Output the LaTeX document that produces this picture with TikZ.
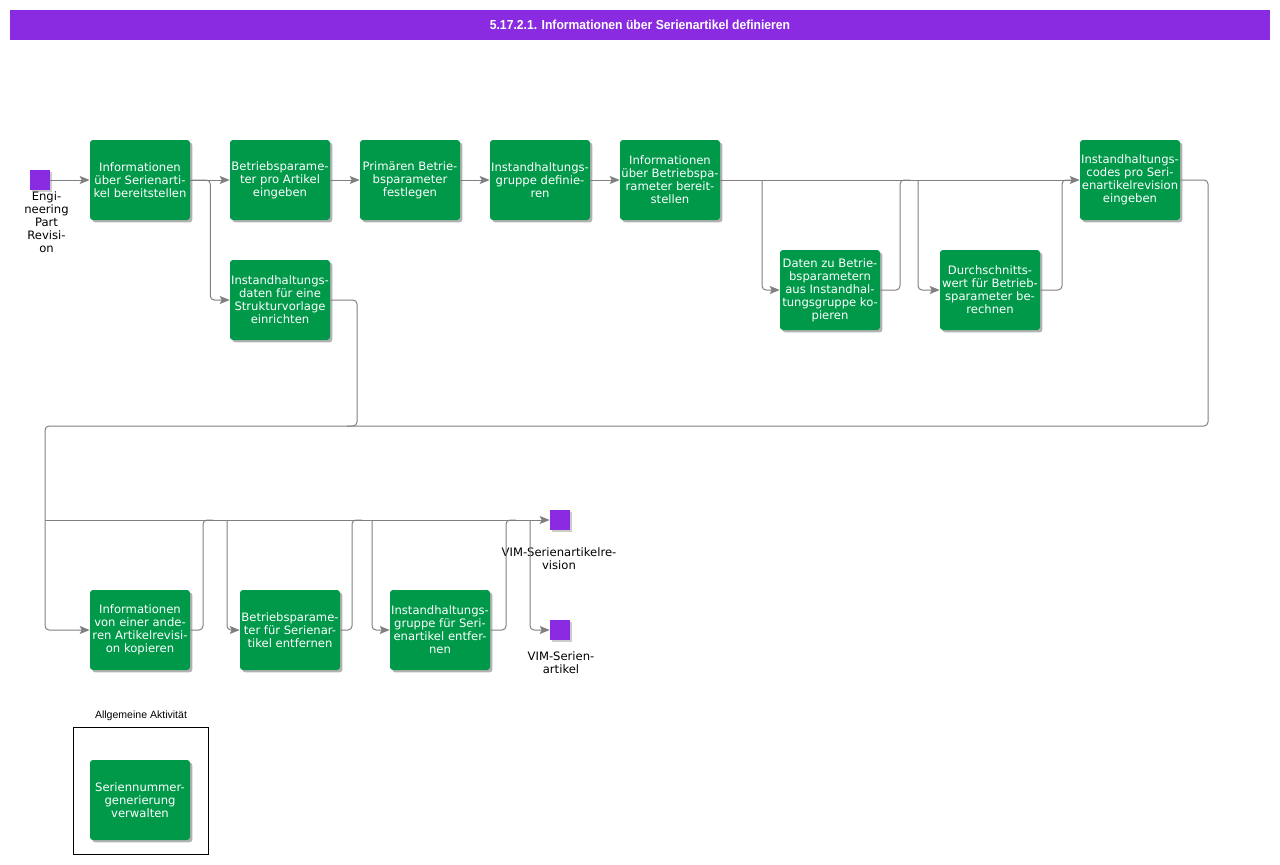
\documentclass[tikz,border=0pt]{standalone}
\usepackage{fontspec}
\setmainfont{DejaVu Sans}
\newfontfamily\titlefont[FakeStretch=0.93]{Liberation Sans}
\newfontfamily\arialfont{Liberation Sans}
\usetikzlibrary{arrows.meta, shadows}
\definecolor{actgreen}{RGB}{0,153,74}
\definecolor{evtpurple}{RGB}{138,43,226}
\definecolor{linkgray}{RGB}{128,128,128}

\begin{document}
\begin{tikzpicture}
	[%
	x=0.75pt, y=-0.75pt,%
	activity/.style={rectangle,	rounded corners=2.25pt,	fill=actgreen,	text=white,	minimum width=75pt,	minimum height=60pt,	inner sep=0pt,	align=center,	font=\fontsize{8.7}{9.75}\selectfont,	drop shadow={shadow xshift=1.8pt, shadow yshift=-1.8pt, opacity=0.3, fill=black}},%
	event/.style   ={rectangle,	fill=evtpurple,	minimum size=15pt,	inner sep=0pt,	drop shadow={shadow xshift=1.2pt, shadow yshift=-1.2pt, opacity=0.2, fill=black}},%
	evlabel/.style ={anchor=north,	align=center,	inner sep=0pt,	font=\fontsize{8.7}{9.75}\selectfont},%
	link/.style    ={draw=linkgray,	line width=0.75pt,	rounded corners=3pt},%
	flow/.style    ={link,	-{Stealth[length=7.5pt, width=6pt, inset=1.5pt]}},%
	]

	\useasboundingbox (0,0) rectangle (1280,864);

	\newcommand{\rowtop}{180}
	\newcommand{\rowmid}{290}
	\newcommand{\rowlow}{630}
	\newcommand{\busy}{520}

	% title
	\node (title) at (640,25) [fill=evtpurple, text=white, minimum width=945pt, minimum height=22.5pt, inner sep=0pt,
		font=\titlefont\bfseries\fontsize{9.8}{11}\selectfont] {5.17.2.1. Informationen über Serienartikel definieren};

	% events
	\node (E0) at (40,\rowtop) [event] {};
	\node (E0label) at (46.5,191) [evlabel] {Engi-\\neering\\Part\\Revisi-\\on};
	\node (E1) at (560,\busy) [event] {};
	\node (E1label) at (559,547) [evlabel] {VIM-Serienartikelre-\\vision};
	\node (E2) at (560,\rowlow) [event] {};
	\node (E2label) at (561,651) [evlabel] {VIM-Serien-\\artikel};

	% activities
	\node (A1)  at (140,\rowtop)  [activity] {Informationen\\über Serienarti-\\kel bereitstellen};
	\node (A2)  at (280,\rowtop)  [activity] {Betriebsparame-\\ter pro Artikel\\eingeben};
	\node (A2b) at (280,300)      [activity] {Instandhaltungs-\\daten für eine\\Strukturvorlage\\einrichten};
	\node (A3)  at (410,\rowtop)  [activity] {Primären Betrie-\\bsparameter\\festlegen};
	\node (A4)  at (540,\rowtop)  [activity] {Instandhaltungs-\\gruppe definie-\\ren};
	\node (A5)  at (670,\rowtop)  [activity] {Informationen\\über Betriebspa-\\rameter bereit-\\stellen};
	\node (A6)  at (830,\rowmid)  [activity] {Daten zu Betrie-\\bsparametern\\aus Instandhal-\\tungsgruppe ko-\\pieren};
	\node (A7)  at (990,\rowmid)  [activity] {Durchschnitts-\\wert für Betrieb-\\sparameter be-\\rechnen};
	\node (A8)  at (1130,\rowtop) [activity] {Instandhaltungs-\\codes pro Seri-\\enartikelrevision\\eingeben};

	\node (B1)  at (140,\rowlow)  [activity] {Informationen\\von einer ande-\\ren Artikelrevisi-\\on kopieren};
	\node (B2)  at (290,\rowlow)  [activity] {Betriebsparame-\\ter für Serienar-\\tikel entfernen};
	\node (B3)  at (440,\rowlow)  [activity] {Instandhaltungs-\\gruppe für Seri-\\enartikel entfer-\\nen};

	% general activity
	\node (genframe) at (140.5,790.5) [draw, line width=0.75pt, minimum width=101.25pt, minimum height=95.25pt, inner sep=0pt] {};
	\node (genlabel) at (141,716) [font=\arialfont\fontsize{7.9}{9}\selectfont, inner sep=0pt] {Allgemeine Aktivität};
	\node (G1) at (140,800) [activity] {Seriennummer-\\generierung\\verwalten};

	% junction points
	\coordinate (t1) at (762,\rowtop);
	\coordinate (t2) at (900,\rowtop);
	\coordinate (t3) at (918,\rowtop);
	\coordinate (t4) at (1062,\rowtop);
	\coordinate (c1) at (1208,426);
	\coordinate (c2) at (45,426);
	\coordinate (c3) at (357,426);
	\coordinate (d0) at (45,\busy);
	\foreach \n/\x in {B1/203,B2/352,B3/506} \coordinate (\n_out) at (\x,\busy);
	\foreach \n/\x in {B2/227,B3/372,E2/530} \coordinate (\n_in) at (\x,\busy);

	% top row
	\draw [flow] (E0.east) -- (A1.west);
	\foreach \a/\b in {A1/A2, A2/A3, A3/A4, A4/A5, A5/A8}%
		\draw [flow] (\a.east) -- (\b.west);
	\draw [flow] (A1.east) -- ++(20,0) |- (A2b.west);
	\draw [flow] (t1) |- (A6.west);
	\draw [link] (A6.east) -| (t2) -- ++(10,0);
	\draw [flow] (t3) |- (A7.west);
	\draw [link] (A7.east) -| (t4) -- ++(10,0);

	% back to the bottom row
	\draw [flow] (A8.east) -| (c1) -- (c2) |- (B1.west);
	\draw [link] (A2b.east) -| (c3) -- ++(-10,0);

	% bottom row
	\draw [flow] (d0) -- (E1.west);
	\foreach \n in {B1,B2,B3}%
		\draw [link] (\n.east) -| (\n_out) -- ++(10,0);
	\foreach \n in {B2,B3,E2}%
		\draw [flow] (\n_in) |- (\n.west);

\end{tikzpicture}
\end{document}
